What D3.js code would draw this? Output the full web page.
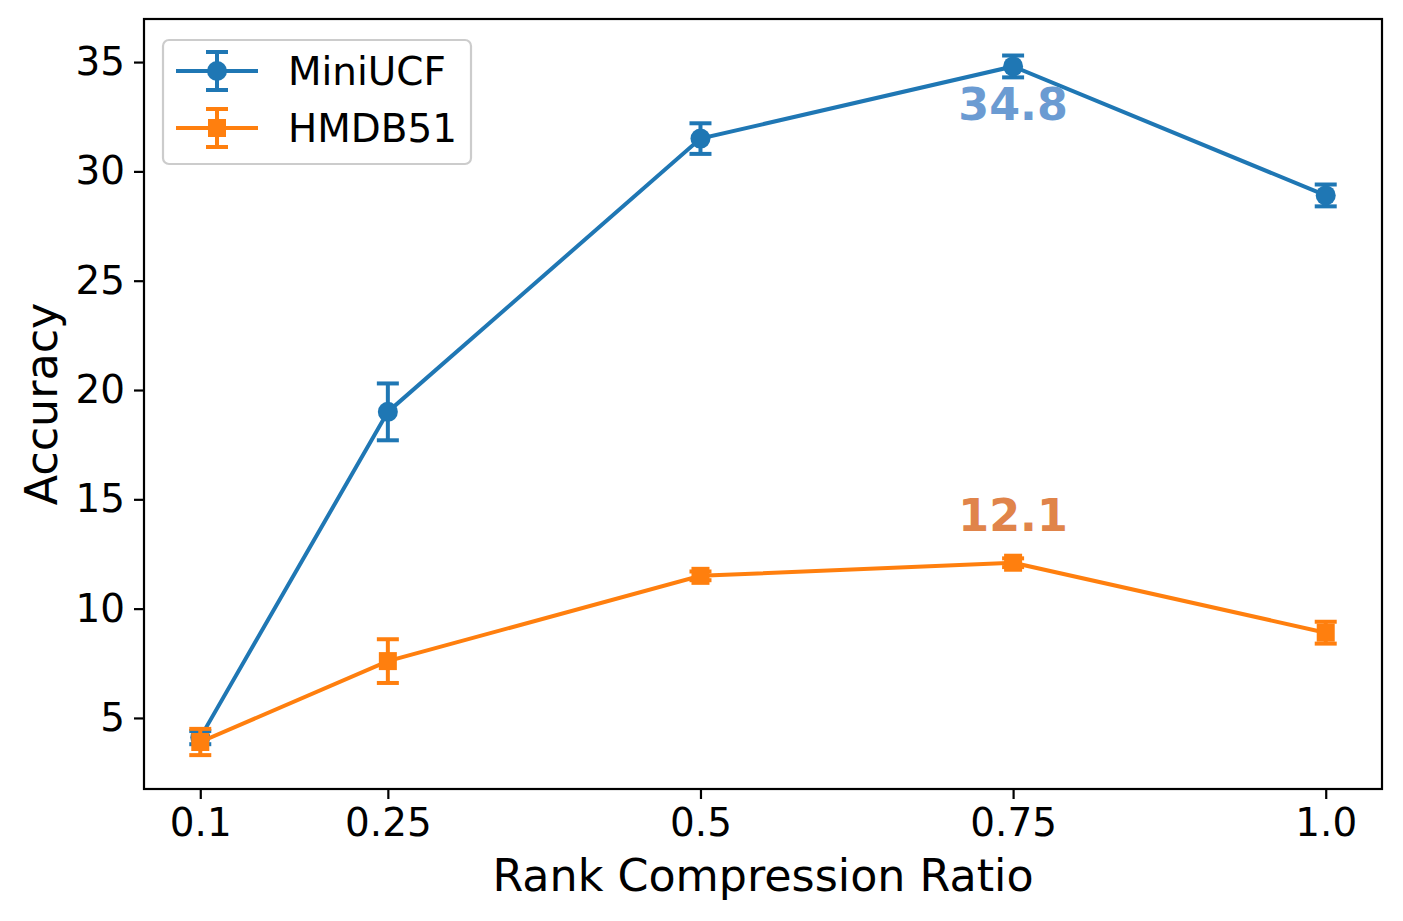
<!DOCTYPE html>
<html>
<head>
<meta charset="utf-8">
<script src="https://cdn.jsdelivr.net/npm/d3@7"></script>
<style>
  body { margin: 0; background: #fff; }
  text { font-family: "DejaVu Sans", sans-serif; }
</style>
</head>
<body>
<svg id="chart" width="1403" height="921"></svg>
<script>
// data
var ratios = [0.1, 0.25, 0.5, 0.75, 1.0];
var tickLabels = ["0.1", "0.25", "0.5", "0.75", "1.0"];
var miniUCF = [4.1, 19.0, 31.5, 34.8, 28.9];
var miniUCFErr = [0.3, 1.3, 0.7, 0.5, 0.5];
var hmdb51 = [3.9, 7.6, 11.5, 12.1, 8.9];
var hmdb51Err = [0.6, 1.0, 0.2, 0.2, 0.5];
var yTicks = [5, 10, 15, 20, 25, 30, 35];

var series = [
    { name: "MiniUCF", values: miniUCF, err: miniUCFErr, color: "#1f77b4", marker: "circle",
      best: 3, labelColor: "#6b9bd2", labelDy: 54 },
    { name: "HMDB51", values: hmdb51, err: hmdb51Err, color: "#ff7f0e", marker: "square",
      best: 3, labelColor: "#e0844a", labelDy: -32 }
];

var svg = d3.select("#chart");
var pLeft = 144, pRight = 1382, pTop = 19, pBottom = 789;
var lw = 4;

var x = d3.scaleLinear().domain([0.055, 1.045]).range([pLeft, pRight]);
var y = d3.scaleLinear().domain([1.75, 36.97]).range([pBottom, pTop]);

// axes
var xAxis = svg.append("g")
    .attr("transform", "translate(0," + pBottom + ")")
    .call(d3.axisBottom(x).tickValues(ratios).tickFormat(function(d, i) { return tickLabels[i]; })
        .tickSizeOuter(0).tickSize(10).tickPadding(9));
var yAxis = svg.append("g")
    .attr("transform", "translate(" + pLeft + ",0)")
    .call(d3.axisLeft(y).tickValues(yTicks).tickSizeOuter(0).tickSize(10).tickPadding(9));

[xAxis, yAxis].forEach(function(a) {
    a.select(".domain").remove();
    a.selectAll(".tick line").attr("stroke", "#000").attr("stroke-width", 2.2);
    a.selectAll(".tick text").attr("fill", "#000").style("font-size", "38.9px")
        .style("font-family", "DejaVu Sans");
});

// frame
svg.append("rect")
    .attr("x", pLeft).attr("y", pTop)
    .attr("width", pRight - pLeft).attr("height", pBottom - pTop)
    .attr("fill", "none").attr("stroke", "#000").attr("stroke-width", 2.2);

svg.append("text")
    .attr("x", (pLeft + pRight) / 2).attr("y", 891)
    .attr("text-anchor", "middle")
    .style("font-size", "44.4px")
    .text("Rank Compression Ratio");

svg.append("text")
    .attr("transform", "translate(57," + ((pTop + pBottom) / 2) + ") rotate(-90)")
    .attr("text-anchor", "middle")
    .style("font-size", "44.4px")
    .text("Accuracy");

var line = d3.line()
    .x(function(d, i) { return x(ratios[i]); })
    .y(function(d) { return y(d); });

function drawMarker(g, kind, cx, cy, color) {
    if (kind === "circle") {
        g.append("circle").attr("cx", cx).attr("cy", cy).attr("r", 10).attr("fill", color);
    } else {
        g.append("rect").attr("x", cx - 9).attr("y", cy - 9)
            .attr("width", 18).attr("height", 18).attr("fill", color);
    }
}

function drawErrBar(g, cx, lo, hi, color) {
    g.append("line").attr("x1", cx).attr("x2", cx).attr("y1", lo).attr("y2", hi)
        .attr("stroke", color).attr("stroke-width", lw);
    [lo, hi].forEach(function(v) {
        g.append("line").attr("x1", cx - 11).attr("x2", cx + 11).attr("y1", v).attr("y2", v)
            .attr("stroke", color).attr("stroke-width", lw);
    });
}

series.forEach(function(s) {
    var g = svg.append("g");
    s.values.forEach(function(v, i) {
        drawErrBar(g, x(ratios[i]), y(v - s.err[i]), y(v + s.err[i]), s.color);
    });
    g.append("path")
        .datum(s.values)
        .attr("d", line)
        .attr("fill", "none")
        .attr("stroke", s.color)
        .attr("stroke-width", lw);
    s.values.forEach(function(v, i) {
        drawMarker(g, s.marker, x(ratios[i]), y(v), s.color);
    });

    // best value label
    svg.append("text")
        .attr("x", x(ratios[s.best]))
        .attr("y", y(s.values[s.best]) + s.labelDy)
        .attr("text-anchor", "middle")
        .attr("fill", s.labelColor)
        .style("font-size", "44.4px")
        .style("font-weight", "bold")
        .text(s.values[s.best].toFixed(1));
});

// legend
var leg = svg.append("g");
leg.append("rect")
    .attr("x", 163).attr("y", 40).attr("width", 308).attr("height", 124)
    .attr("rx", 6).attr("ry", 6)
    .attr("fill", "#fff").attr("fill-opacity", 0.8)
    .attr("stroke", "#cccccc").attr("stroke-width", 2.2);

series.forEach(function(s, i) {
    var ly = 71 + i * 57;
    var lg = leg.append("g");
    lg.append("line").attr("x1", 176).attr("x2", 258).attr("y1", ly).attr("y2", ly)
        .attr("stroke", s.color).attr("stroke-width", lw);
    drawErrBar(lg, 217, ly - 19, ly + 19, s.color);
    drawMarker(lg, s.marker, 217, ly, s.color);
    lg.append("text")
        .attr("x", 288).attr("y", ly + 14)
        .style("font-size", "38.9px")
        .text(s.name);
});
</script>
</body>
</html>
